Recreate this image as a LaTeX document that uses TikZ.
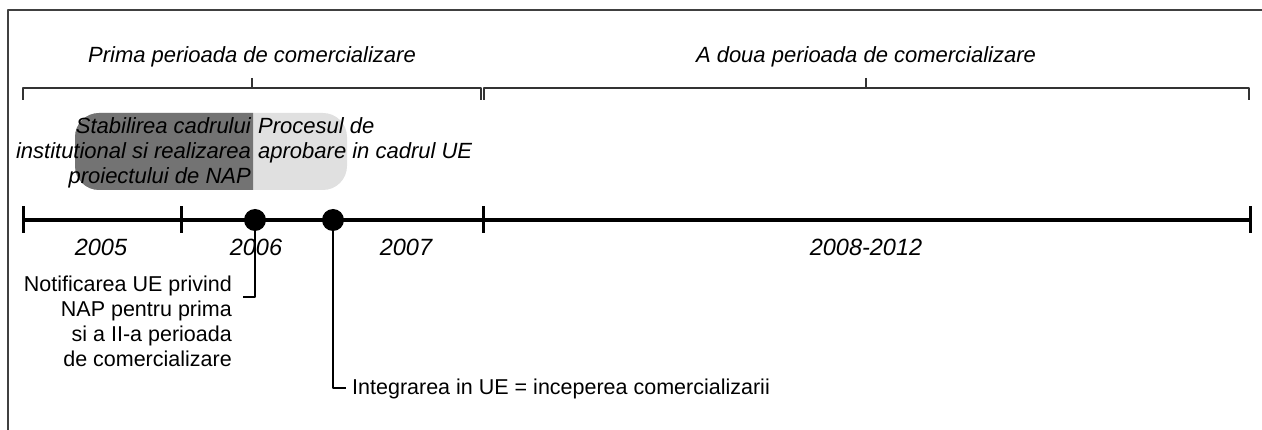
\documentclass[tikz,border=0pt]{standalone}
\usepackage{fontspec}
\setmainfont{Liberation Sans}
\begin{document}
\begin{tikzpicture}[x=1pt, y=-1pt, line join=round,
	txt/.style={font=\fontsize{21.5}{25}\selectfont, inner sep=0pt},
	itxt/.style={txt, font=\fontsize{22}{25}\selectfont\itshape},
	ytxt/.style={txt, font=\fontsize{23.5}{25}\selectfont\itshape},
	brace/.style={line width=1.2pt, black!80},
	axis/.style={line width=4pt},
	tick/.style={line width=3pt},
	dot/.style={circle, fill=black, inner sep=0pt, minimum size=22pt},
	callout/.style={line width=1.2pt}]
	\useasboundingbox (0,0) rectangle (1262,430);
	% frame
	\draw[line width=1.5pt, black!75] (8,430) -- (8,10) -- (1262,10);
	% periods
	\node[itxt] (p1) at (252,57) {Prima perioada de comercializare};
	\node[itxt] (p2) at (866,57) {A doua perioada de comercializare};
	\coordinate (p1t) at (252,78); \coordinate (p2t) at (866,78);
	\draw[brace] (23,100) |- (481,88) -- (481,100);
	\draw[brace] (484,100) |- (1249,88) -- (1249,100);
	\draw[brace] (p1t) -- (252,88);
	\draw[brace] (p2t) -- (866,88);
	% phases
	\fill[black!12] (75,113) [rounded corners=24pt] rectangle (347,190);
	\begin{scope}
		\clip (60,100) rectangle (253,200);
		\fill[black!55] (75,113) [rounded corners=24pt] rectangle (347,190);
	\end{scope}
	\node[itxt, align=right, anchor=north east] (ph1) at (251,117)
		{Stabilirea cadrului\\institutional si realizarea\\proiectului de NAP};
	\node[itxt, align=left, anchor=north west] (ph2) at (258,117)
		{Procesul de\\aprobare in cadrul UE};
	% timeline
	\coordinate (t0) at (23,220); \coordinate (t1) at (181,220);
	\coordinate (t2) at (483,220); \coordinate (t3) at (1250,220);
	\draw[axis] (t0) -- (t3);
	\foreach \t in {t0,t1,t2,t3}
		\draw[tick] ([yshift=-13pt]\t) -- ([yshift=14pt]\t);
	\node[ytxt] (y1) at (101,247) {2005};
	\node[ytxt] (y2) at (256,247) {2006};
	\node[ytxt] (y3) at (406,247) {2007};
	\node[ytxt] (y4) at (866,247) {2008-2012};
	% events
	\node[dot] (e1) at (255,220) {};
	\node[dot] (e2) at (333,220) {};
	\coordinate (c1) at (243,297);
	\coordinate (c2) at (346,388);
	\draw[callout] (e1.center) |- (c1);
	\draw[callout] (e2.center) |- (c2);
	\node[txt, align=right, anchor=north east] (n1) at (232,276)
		{Notificarea UE privind\\NAP pentru prima\\si a II-a perioada\\de comercializare};
	\node[txt, anchor=west] (n2) at (352,389) {Integrarea in UE = inceperea comercializarii};
\end{tikzpicture}
\end{document}
